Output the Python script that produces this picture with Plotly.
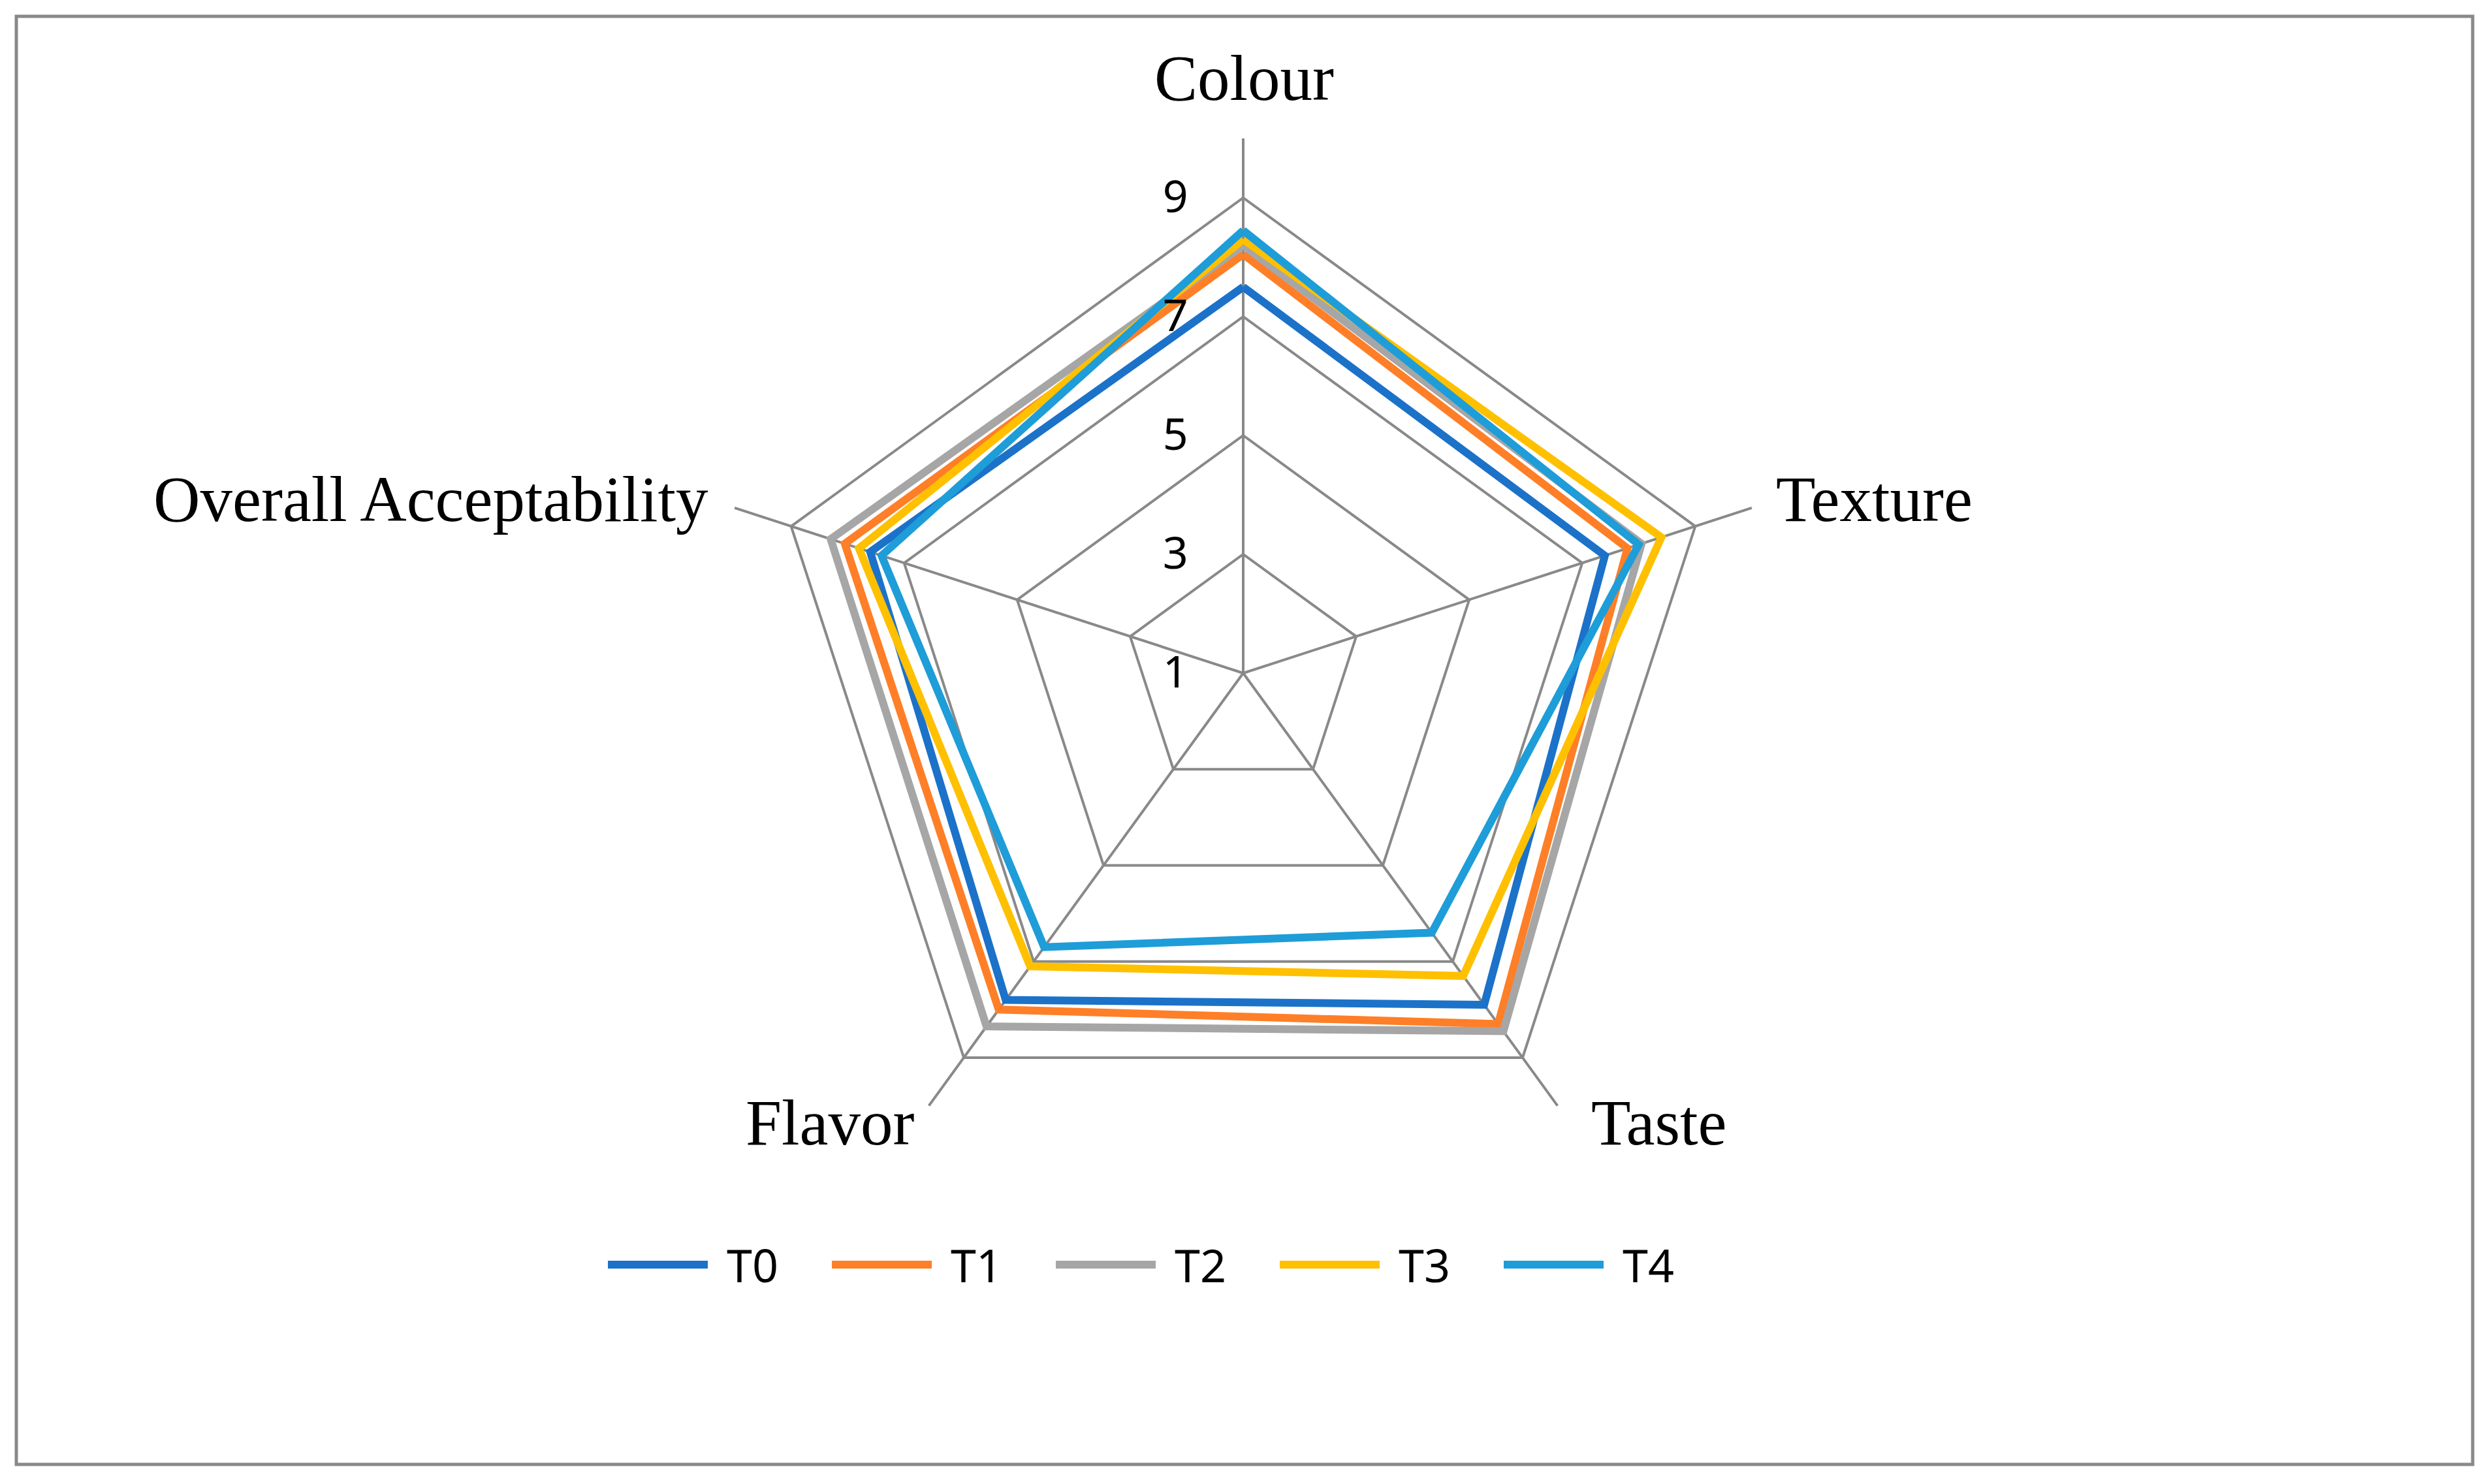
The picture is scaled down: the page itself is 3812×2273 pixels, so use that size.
import plotly.graph_objects as go

W, H = 3812, 2273

categories = ["Colour", "Texture", "Taste", "Flavor", "Overall Acceptability"]
series_names = ["T0", "T1", "T2", "T3", "T4"]
t0 = [7.5, 7.4, 7.9, 7.8, 7.6]
t1 = [8.05, 7.8, 8.3, 8.0, 8.05]
t2 = [8.2, 8.05, 8.45, 8.35, 8.3]
t3 = [8.3, 8.4, 7.3, 7.1, 7.8]
t4 = [8.45, 8.0, 6.4, 6.7, 7.4]
radial_ticks = [1, 3, 5, 7, 9]

colors = ["#1B72C8", "#FE7F27", "#A6A6A6", "#FFC000", "#1E9DD8"]
grid_color = "#898989"

# the page body has an 8px margin, so the figure is drawn 16px smaller
# and every page position is shifted by 8px
OFF = 8
FW, FH = W - 2 * OFF, H - 2 * OFF


def px_x(x):
    return (x - OFF) / FW


def px_y(y):
    return 1 - (y - OFF) / FH


fig = go.Figure()
for name, vals, col in zip(series_names, [t0, t1, t2, t3, t4], colors):
    fig.add_trace(go.Scatterpolar(
        r=vals + vals[:1],
        theta=categories + categories[:1],
        mode="lines",
        name=name,
        line=dict(color=col, width=12),
        showlegend=False,
    ))

# centre of the radar at (1904, 1031) px, radius 819 px
cx, cy, rad = 1904, 1031, 819
fig.update_layout(
    width=FW, height=FH,
    margin=dict(l=0, r=0, t=0, b=0),
    paper_bgcolor="white",
    polar=dict(
        domain=dict(x=[px_x(cx - rad), px_x(cx + rad)],
                    y=[px_y(cy + rad), px_y(cy - rad)]),
        bgcolor="white",
        gridshape="linear",
        angularaxis=dict(direction="clockwise", rotation=90, showline=False,
                         gridcolor=grid_color, gridwidth=4, ticks="",
                         showticklabels=False),
        radialaxis=dict(range=[1, 10], tickvals=radial_ticks, angle=90,
                        side="counterclockwise", showline=False, tickangle=90,
                        gridcolor=grid_color, gridwidth=4,
                        ticks="outside", ticklen=60, tickcolor="rgba(0,0,0,0)",
                        tickfont=dict(family="Noto Sans", size=68, color="black")),
    ),
)

# category labels: (x, baseline y, anchor)
label_pos = [(1905, 153, "center"), (2718, 798, "left"), (2435, 1753, "left"),
             (1403, 1753, "right"), (1087, 798, "right")]
cat_size = 99
for cat, (x, base, anchor) in zip(categories, label_pos):
    fig.add_annotation(x=px_x(x), y=px_y(base - 0.3375 * cat_size),
                       xref="paper", yref="paper", text=cat, showarrow=False,
                       xanchor=anchor, yanchor="middle",
                       font=dict(family="Liberation Serif", size=cat_size, color="black"))

# outer frame
fig.add_shape(type="rect", xref="paper", yref="paper",
              x0=px_x(25), x1=px_x(3787), y0=px_y(2243), y1=px_y(25),
              line=dict(color=grid_color, width=5))

# legend drawn like the original (long line swatches)
leg_x0, leg_y, pitch = 931, 1937, 343
for i, (name, col) in enumerate(zip(series_names, colors)):
    x = leg_x0 + i * pitch
    fig.add_shape(type="line", xref="paper", yref="paper",
                  x0=px_x(x), x1=px_x(x + 153), y0=px_y(leg_y), y1=px_y(leg_y),
                  line=dict(color=col, width=12))
    fig.add_annotation(x=px_x(x + 180), y=px_y(leg_y), xref="paper", yref="paper",
                       text=name, showarrow=False, xanchor="left", yanchor="middle",
                       font=dict(family="Noto Sans", size=70, color="black"))

fig.write_html("out.html")
